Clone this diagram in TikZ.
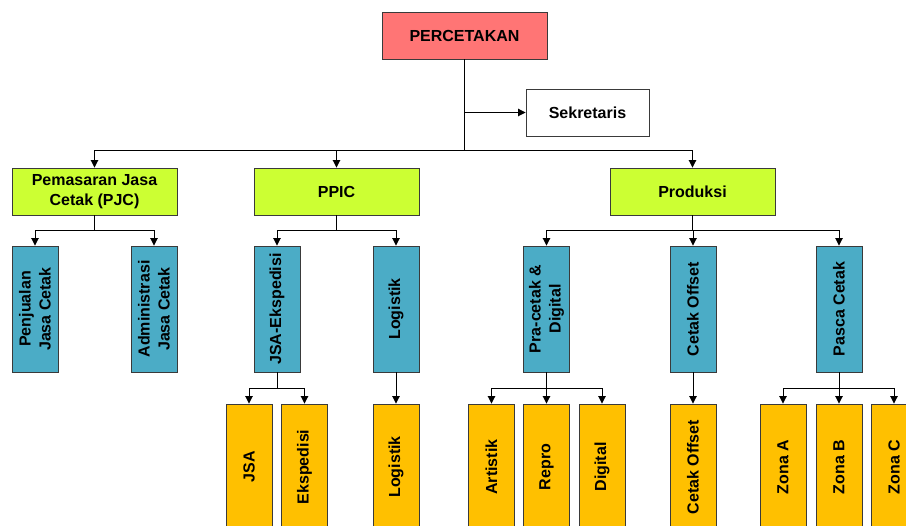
\documentclass[tikz,border=0pt]{standalone}
\usepackage{fontspec}
\setmainfont{Liberation Sans}
\usetikzlibrary{arrows.meta}
\definecolor{cred}{HTML}{FF7575}
\definecolor{cgreen}{HTML}{CCFF33}
\definecolor{cblue}{HTML}{4BACC6}
\definecolor{corange}{HTML}{FFC000}
\definecolor{cborder}{HTML}{3A3A3A}
\begin{document}
\begin{tikzpicture}[x=1pt,y=-1pt,
  box/.style={draw=cborder, line width=0.9pt, font=\bfseries\fontsize{16}{20}\selectfont, align=center, inner sep=0pt},
  hbox/.style={box, minimum width=165, minimum height=47},
  vbox/.style={box, rotate=90, minimum width=126, minimum height=46, fill=cblue},
  leaf/.style={box, rotate=90, minimum width=126, minimum height=46, fill=corange},
  conn/.style={line width=0.9pt, black},
  arr/.style={conn, -{Triangle[length=7.5pt,width=7.5pt]}}]
\useasboundingbox (0,0) rectangle (906,526);
\clip (0,0) rectangle (906,526);

% top
\node[hbox, fill=cred] (top) at (464.5,35.5) {PERCETAKAN};
\node[box, minimum width=123, minimum height=47, fill=white] (sek) at (587.5,112.5) {Sekretaris};

% level 2
\node[hbox, fill=cgreen] (pjc) at (94.5,191.5) {Pemasaran Jasa\\Cetak (PJC)};
\node[hbox, fill=cgreen] (ppic) at (336.5,191.5) {PPIC};
\node[hbox, fill=cgreen] (prod) at (692.5,191.5) {Produksi};

% level 3
\node[vbox] (penj) at (35,309) {Penjualan\\Jasa Cetak};
\node[vbox] (adm) at (154,309) {Administrasi\\Jasa Cetak};
\node[vbox] (jsae) at (277,309) {JSA-Ekspedisi};
\node[vbox] (logi) at (396,309) {Logistik};
\node[vbox] (pra) at (546.5,309) {Pra-cetak \&\\Digital};
\node[vbox] (co) at (693,309) {Cetak Offset};
\node[vbox] (pasca) at (839,309) {Pasca Cetak};

% level 4
\node[leaf] (jsa) at (249,467) {JSA};
\node[leaf] (eksp) at (304.5,467) {Ekspedisi};
\node[leaf] (logi2) at (396,467) {Logistik};
\node[leaf] (art) at (491.5,467) {Artistik};
\node[leaf] (repro) at (546.5,467) {Repro};
\node[leaf] (dig) at (602,467) {Digital};
\node[leaf] (co2) at (693,467) {Cetak Offset};
\node[leaf] (za) at (783,467) {Zona A};
\node[leaf] (zb) at (839,467) {Zona B};
\node[leaf] (zc) at (894,467) {Zona C};

% connectors top
\coordinate (j0) at (top.south |- 0,150);
\coordinate (s0) at (top.south |- 0,112.5);
\draw[conn] (top.south) -- (j0);
\draw[arr] (s0) -- (sek.west);
\draw[arr] (j0) -| (pjc.north);
\draw[arr] (j0) -| (ppic.north);
\draw[arr] (j0) -| (prod.north);

% level 2 -> 3
\coordinate (j1) at (pjc.south |- 0,230);
\draw[conn] (pjc.south) -- (j1);
\draw[arr] (j1) -| (penj.east);
\draw[arr] (j1) -| (adm.east);

\coordinate (j2) at (ppic.south |- 0,230);
\draw[conn] (ppic.south) -- (j2);
\draw[arr] (j2) -| (jsae.east);
\draw[arr] (j2) -| (logi.east);

\coordinate (j3) at (prod.south |- 0,230);
\draw[conn] (prod.south) -- (j3);
\draw[arr] (j3) -| (pra.east);
\draw[arr] (j3) -| (co.east);
\draw[arr] (j3) -| (pasca.east);

% level 3 -> 4
\coordinate (j4) at (jsae.west |- 0,388);
\draw[conn] (jsae.west) -- (j4);
\draw[arr] (j4) -| (jsa.east);
\draw[arr] (j4) -| (eksp.east);

\draw[arr] (logi.west) -- (logi2.east);

\coordinate (j5) at (pra.west |- 0,388);
\draw[conn] (pra.west) -- (j5);
\draw[arr] (j5) -| (art.east);
\draw[arr] (j5) -| (repro.east);
\draw[arr] (j5) -| (dig.east);

\draw[arr] (co.west) -- (co2.east);

\coordinate (j6) at (pasca.west |- 0,388);
\draw[conn] (pasca.west) -- (j6);
\draw[arr] (j6) -| (za.east);
\draw[arr] (j6) -| (zb.east);
\draw[arr] (j6) -| (zc.east);
\end{tikzpicture}
\end{document}
